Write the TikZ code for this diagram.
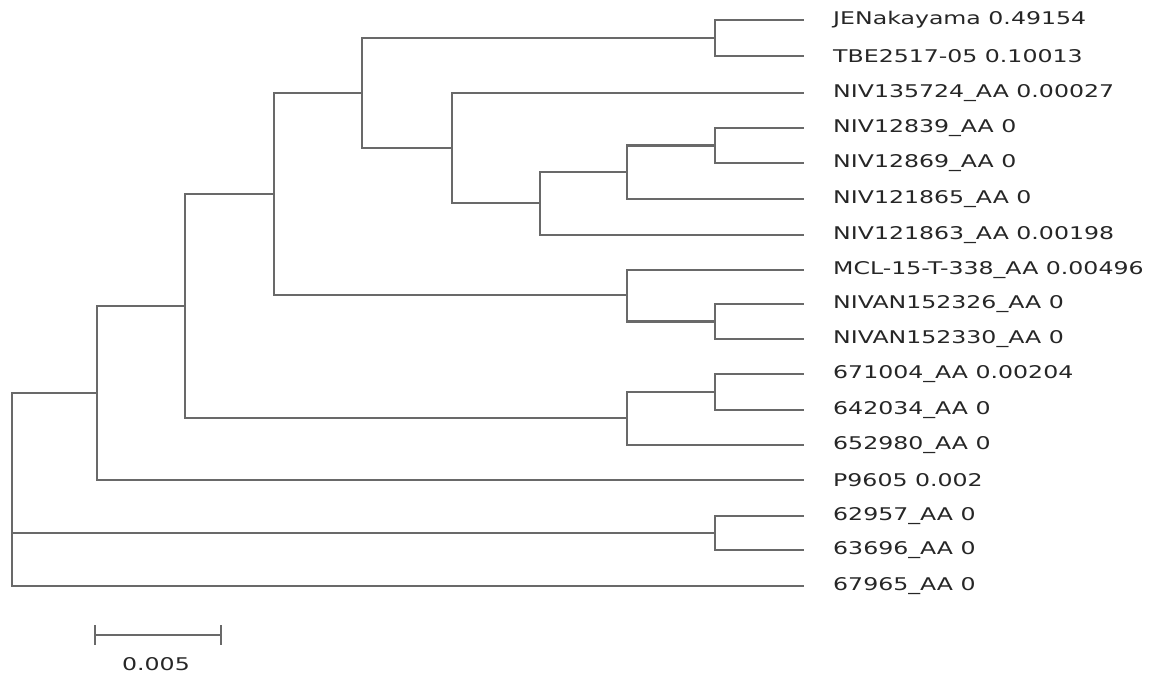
\documentclass[tikz,border=0pt]{standalone}
\usepackage{fontspec}
\setmainfont[FakeStretch=1.35]{DejaVu Sans}
\usetikzlibrary{calc}
\definecolor{br}{RGB}{105,105,105}
\begin{document}
\begin{tikzpicture}[x=1pt,y=-1pt,br/.style={draw=br,line width=2.8pt,line cap=rect},
lab/.style={anchor=west,inner sep=0pt,font=\fontsize{17.5}{20}\selectfont,text=black!85}]
\useasboundingbox (0,0) rectangle (1171,685);
% leaves
\foreach \n/\y/\t in {a/20/JENakayama 0.49154,b/56/TBE2517-05 0.10013,c/93/NIV135724\_AA 0.00027,d/128/NIV12839\_AA 0,e/163/NIV12869\_AA 0,f/199/NIV121865\_AA 0,g/235/NIV121863\_AA 0.00198,h/270/MCL-15-T-338\_AA 0.00496,i/304/NIVAN152326\_AA 0,j/339/NIVAN152330\_AA 0,k/374/671004\_AA 0.00204,l/410/642034\_AA 0,m/445/652980\_AA 0,n/480/P9605 0.002,o/516/62957\_AA 0,p/550/63696\_AA 0,q/586/67965\_AA 0}
  {\coordinate (\n) at (803,\y); \node[lab] (L\n) at (833,\y) {\t};}
% internal nodes
\coordinate (ab) at (715,38);
\coordinate (de) at (715,145.5);
\coordinate (def) at (627,172);
\coordinate (defg) at (540,203);
\coordinate (cg) at (452,148);
\coordinate (ag) at (362,93);
\coordinate (ij) at (715,321.5);
\coordinate (hj) at (627,295);
\coordinate (aj) at (274,194);
\coordinate (kl) at (715,392);
\coordinate (km) at (627,418);
\coordinate (am) at (185,306);
\coordinate (an) at (97,393);
\coordinate (op) at (715,533);
\coordinate (root) at (12,393);
\newcommand{\clade}[2]{\foreach \c in {#2}{\draw[br] (#1) |- (\c);}}
\clade{ab}{a,b}
\clade{de}{d,e}
\clade{def}{de,f}
\clade{defg}{def,g}
\clade{cg}{c,defg}
\clade{ag}{ab,cg}
\clade{ij}{i,j}
\clade{hj}{h,ij}
\clade{aj}{ag,hj}
\clade{kl}{k,l}
\clade{km}{kl,m}
\clade{am}{aj,km}
\clade{an}{am,n}
\clade{op}{o,p}
\clade{root}{an,op,q}
% scale bar
\coordinate (s1) at (95,635); \coordinate (s2) at (221,635);
\draw[br,line cap=butt] (s1) -- (s2);
\draw[br,line cap=butt] ($(s1)+(0,-10)$) -- ($(s1)+(0,10)$);
\draw[br,line cap=butt] ($(s2)+(0,-10)$) -- ($(s2)+(0,10)$);
\node[font=\fontsize{17.5}{20}\selectfont,text=black!85] (sl) at (156,664) {0.005};
\end{tikzpicture}
\end{document}
